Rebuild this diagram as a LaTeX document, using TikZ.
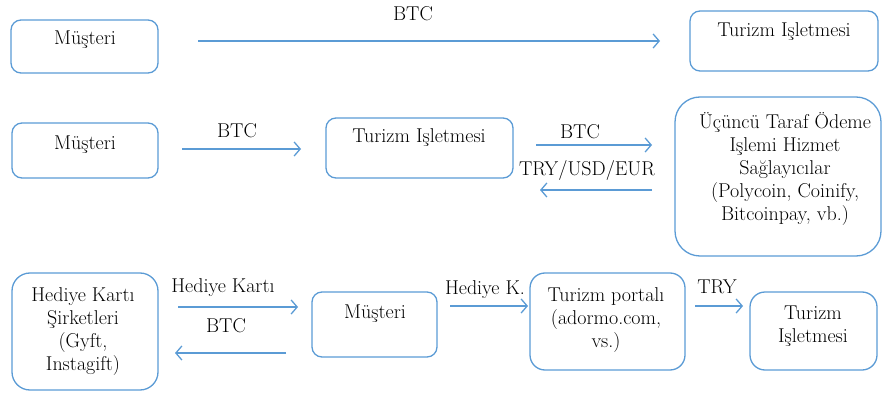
\documentclass[tikz,border=0pt]{standalone}
\usetikzlibrary{arrows.meta}
\definecolor{bl}{RGB}{91,155,213}
\begin{document}
\begin{tikzpicture}[x=1pt,y=-1pt,
  box/.style={draw=bl, line width=1.3pt, rounded corners=10pt, inner sep=0pt},
  lbl/.style={font=\fontsize{20}{23}\selectfont, align=center, inner sep=0pt},
  arr/.style={draw=bl, line width=1.3pt, -{Straight Barb[length=6pt,width=14pt,line width=1.3pt]}}]
\useasboundingbox (0,0) rectangle (882,395);
% Row 1
\node[box, minimum width=147pt, minimum height=53pt] (m1) at (84.5,46.5) {};
\node[lbl] (m1t) at (85,40) {Müşteri};
\node[box, minimum width=188pt, minimum height=60pt] (t1) at (784,41) {};
\node[lbl] (t1t) at (784,32) {Turizm Işletmesi};
\coordinate (a1s) at (198,41);
\coordinate (a1e) at (660,41);
\draw[arr] (a1s) -- (a1e);
\node[lbl] (a1l) at (413,14) {BTC};
% Row 2
\node[box, minimum width=146pt, minimum height=55pt] (m2) at (85,150.5) {};
\node[lbl] (m2t) at (85,145) {Müşteri};
\node[box, minimum width=187pt, minimum height=60pt] (t2) at (419.5,148) {};
\node[lbl] (t2t) at (419,138) {Turizm Işletmesi};
\node[box, rounded corners=25pt, minimum width=206pt, minimum height=159pt] (p) at (778,176.5) {};
\node[lbl] (pt) at (785,169) {Üçüncü Taraf Ödeme\\Işlemi Hizmet\\Sağlayıcılar\\(Polycoin, Coinify,\\Bitcoinpay, vb.)};
\coordinate (a2s) at (182,149);
\coordinate (a2e) at (301,149);
\draw[arr] (a2s) -- (a2e);
\node[lbl] (a2l) at (237,131) {BTC};
\coordinate (a3s) at (536,145);
\coordinate (a3e) at (652,145);
\draw[arr] (a3s) -- (a3e);
\node[lbl] (a3l) at (580,132) {BTC};
\coordinate (a4s) at (652,190);
\coordinate (a4e) at (540,190);
\draw[arr] (a4s) -- (a4e);
\node[lbl] (a4l) at (587,171) {TRY/USD/EUR};
% Row 3
\node[box, rounded corners=18pt, minimum width=146pt, minimum height=117pt] (h) at (85,331.5) {};
\node[lbl] (ht) at (83,332) {Hediye Kartı\\Şirketleri\\(Gyft,\\Instagift)};
\node[box, minimum width=125pt, minimum height=65pt] (m3) at (374.5,324.5) {};
\node[lbl] (m3t) at (375,314) {Müşteri};
\node[box, rounded corners=15pt, minimum width=155pt, minimum height=97pt] (tp) at (607.5,321.5) {};
\node[lbl] (tpt) at (606,320) {Turizm portalı\\(adormo.com,\\vs.)};
\node[box, rounded corners=15pt, minimum width=127pt, minimum height=78pt] (t3) at (813.5,331) {};
\node[lbl] (t3t) at (813,326) {Turizm\\Işletmesi};
\coordinate (a5s) at (178,307);
\coordinate (a5e) at (298,307);
\draw[arr] (a5s) -- (a5e);
\node[lbl] (a5l) at (223,288) {Hediye Kartı};
\coordinate (a6s) at (286,353);
\coordinate (a6e) at (175,353);
\draw[arr] (a6s) -- (a6e);
\node[lbl] (a6l) at (226,326) {BTC};
\coordinate (a7s) at (450,306);
\coordinate (a7e) at (528,306);
\draw[arr] (a7s) -- (a7e);
\node[lbl] (a7l) at (485,290) {Hediye K.};
\coordinate (a8s) at (695,306);
\coordinate (a8e) at (743,306);
\draw[arr] (a8s) -- (a8e);
\node[lbl] (a8l) at (717,287) {TRY};
\end{tikzpicture}
\end{document}
